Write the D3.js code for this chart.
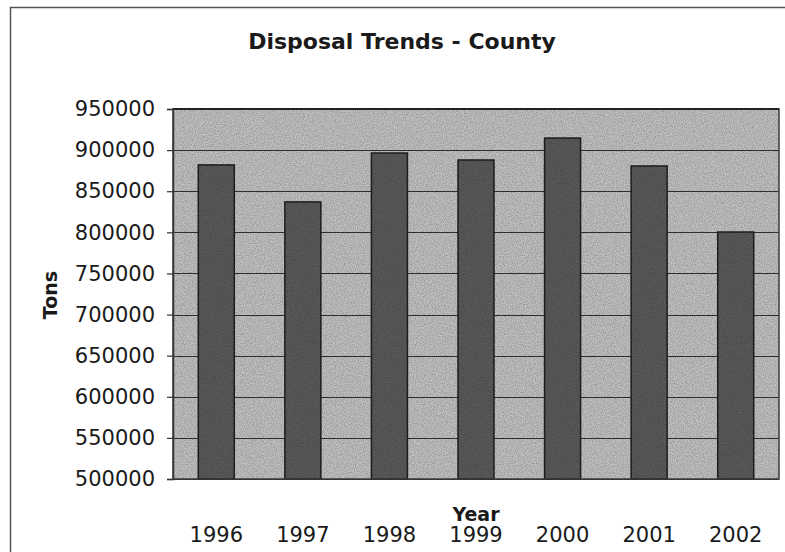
<!DOCTYPE html>
<html><head><meta charset="utf-8">
<script src="https://cdn.jsdelivr.net/npm/d3@7"></script>
<style>html,body{margin:0;padding:0;background:#fff;}svg{display:block;}</style>
</head><body>
<svg id="chart" width="785" height="552"></svg>
<script>
const years = ["1996","1997","1998","1999","2000","2001","2002"];
const tons = [882000, 837000, 896500, 888000, 914700, 880700, 800400];
const yTicks = [500000,550000,600000,650000,700000,750000,800000,850000,900000,950000];

const svg = d3.select("#chart");
const m = {left:173, top:109, right:779, bottom:479};

const defs = svg.append("defs");
const f = defs.append("filter").attr("id","grain").attr("x",0).attr("y",0).attr("width",1).attr("height",1);
f.append("feTurbulence").attr("type","fractalNoise").attr("baseFrequency",0.9).attr("numOctaves",2).attr("seed",3).attr("result","n");
f.append("feColorMatrix").attr("in","n").attr("type","matrix")
 .attr("values","0 0 0 0 0  0 0 0 0 0  0 0 0 0 0  0 0 0 -1.1 0.75").attr("result","a");
f.append("feComposite").attr("in","a").attr("in2","SourceGraphic").attr("operator","in");

// outer frame
svg.append("path").attr("d","M10.5,560 L10.5,7.5 L790,7.5").attr("fill","none").attr("stroke","#555").attr("stroke-width",1.5);

const x = d3.scaleBand().domain(years).range([m.left,m.right]).paddingInner(0.584).paddingOuter(0.292);
const y = d3.scaleLinear().domain([500000,950000]).range([m.bottom,m.top]);

// plot bg
svg.append("rect").attr("x",m.left).attr("y",m.top).attr("width",m.right-m.left).attr("height",m.bottom-m.top).attr("fill","#c2c2c2");
svg.append("rect").attr("x",m.left).attr("y",m.top).attr("width",m.right-m.left).attr("height",m.bottom-m.top).attr("fill","#000").attr("filter","url(#grain)").attr("opacity",0.4);

// gridlines
svg.append("g").selectAll("line").data(yTicks).join("line")
 .attr("x1",m.left).attr("x2",m.right).attr("y1",d=>Math.round(y(d))+0.5).attr("y2",d=>Math.round(y(d))+0.5)
 .attr("stroke","#2e2e2e").attr("stroke-width",1.2);

// bars
svg.append("g").selectAll("rect").data(years).join("rect")
 .attr("x",d=>x(d)).attr("width",x.bandwidth())
 .attr("y",(d,i)=>y(tons[i])).attr("height",(d,i)=>y(500000)-y(tons[i]))
 .attr("fill","#5a5a5a").attr("stroke","#1e1e1e").attr("stroke-width",1.5);
svg.append("g").selectAll("rect").data(years).join("rect")
 .attr("x",d=>x(d)).attr("width",x.bandwidth())
 .attr("y",(d,i)=>y(tons[i])).attr("height",(d,i)=>y(500000)-y(tons[i]))
 .attr("fill","#000").attr("filter","url(#grain)").attr("opacity",0.35);

// plot border
svg.append("rect").attr("x",m.left).attr("y",m.top).attr("width",m.right-m.left).attr("height",m.bottom-m.top)
 .attr("fill","none").attr("stroke","#3a3a3a").attr("stroke-width",1.5);
svg.append("line").attr("x1",m.left).attr("x2",m.right).attr("y1",m.top).attr("y2",m.top).attr("stroke","#222").attr("stroke-width",2.2);

// y axis
const ya = svg.append("g").attr("transform",`translate(${m.left},0)`)
 .call(d3.axisLeft(y).tickValues(yTicks).tickFormat(d3.format("d")).tickSize(6).tickPadding(12));
ya.select(".domain").attr("stroke","#333").attr("stroke-width",1.5);
ya.selectAll(".tick line").attr("stroke","#333").attr("stroke-width",1.2);
ya.selectAll("text").attr("font-family","'DejaVu Sans', Verdana, sans-serif").attr("font-size",21).attr("fill","#1a1a1a");

// x axis labels
const xa = svg.append("g").attr("transform",`translate(0,${m.bottom})`)
 .call(d3.axisBottom(x).tickSize(0).tickPadding(48));
xa.select(".domain").remove();
xa.selectAll("text").attr("font-family","'DejaVu Sans', Verdana, sans-serif").attr("font-size",21).attr("fill","#1a1a1a");

// titles
svg.append("text").attr("x",402).attr("y",49).attr("text-anchor","middle")
 .attr("font-family","'DejaVu Sans', Verdana, sans-serif").attr("font-weight","bold").attr("font-size",22).attr("fill","#1a1a1a")
 .text("Disposal Trends - County");
svg.append("text").attr("x",476).attr("y",521).attr("text-anchor","middle")
 .attr("font-family","'DejaVu Sans', Verdana, sans-serif").attr("font-weight","bold").attr("font-size",19).attr("fill","#1a1a1a")
 .text("Year");
svg.append("text").attr("transform","translate(57,295) rotate(-90)").attr("text-anchor","middle")
 .attr("font-family","'DejaVu Sans', Verdana, sans-serif").attr("font-weight","bold").attr("font-size",19).attr("fill","#1a1a1a")
 .text("Tons");
</script>
</body></html>
